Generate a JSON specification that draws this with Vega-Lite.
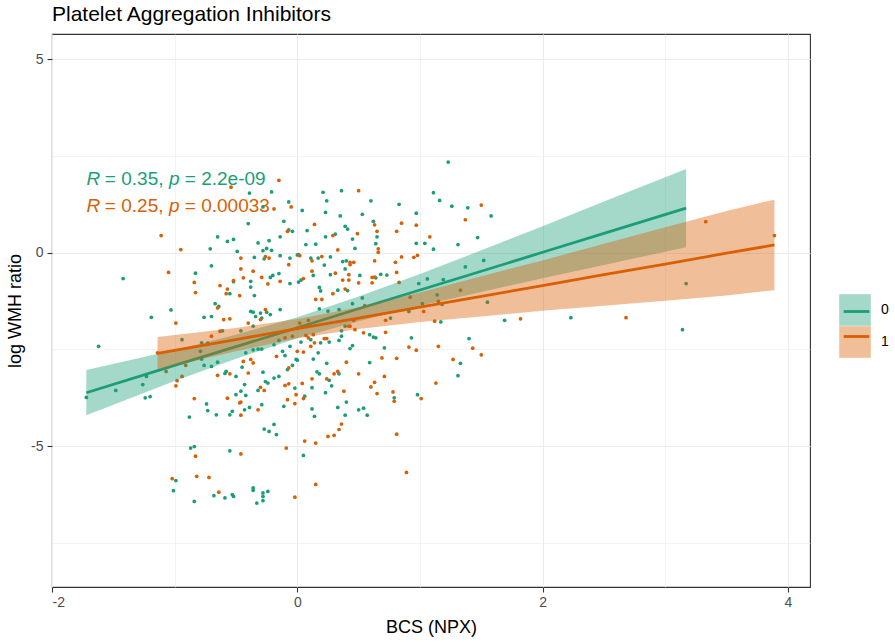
{
"$schema": "https://vega.github.io/schema/vega-lite/v6.json",
"width": 758, "height": 553,
"autosize": {"type": "none"},
"padding": {"left": 52, "top": 34, "right": 85, "bottom": 55},
"background": "white",
"title": {"text": "Platelet Aggregation Inhibitors", "anchor": "start", "frame": "group", "fontSize": 21, "font": "Liberation Sans", "fontWeight": "normal", "color": "#000000", "baseline": "alphabetic", "offset": 14, "dy": 22},
"config": {
  "font": "Liberation Sans",
  "view": {"stroke": "#333333", "strokeWidth": 1.1},
  "axis": {"domain": false, "grid": true, "gridColor": "#EBEBEB", "tickColor": "#333333", "tickSize": 5, "tickWidth": 1.1, "labelColor": "#4D4D4D", "labelFontSize": 14, "labelFont": "Liberation Sans", "titleFont": "Liberation Sans", "titleFontSize": 18, "titleColor": "#000000", "titleFontWeight": "normal"}
},
"datasets": {
"pts": [
{"x":-0.39,"y":1.54,"g":"0"},{"x":-0.21,"y":1.57,"g":"0"},{"x":-0.07,"y":1.31,"g":"0"},{"x":-0.28,"y":1.18,"g":"0"},{"x":-0.40,"y":0.75,"g":"0"},{"x":-0.65,"y":0.41,"g":"0"},{"x":-0.57,"y":0.29,"g":"0"},{"x":-0.52,"y":0.34,"g":"0"},{"x":-0.11,"y":0.81,"g":"0"},{"x":-0.07,"y":0.59,"g":"0"},{"x":-0.04,"y":0.55,"g":"0"},{"x":-0.14,"y":0.41,"g":"0"},{"x":-0.71,"y":0.10,"g":"0"},{"x":-0.49,"y":0.03,"g":"0"},{"x":-0.32,"y":0.25,"g":"0"},{"x":-0.28,"y":0.05,"g":"0"},{"x":-0.25,"y":0.11,"g":"0"},{"x":-0.21,"y":0.06,"g":"0"},{"x":-0.23,"y":0.31,"g":"0"},{"x":-0.35,"y":-0.12,"g":"0"},{"x":-0.27,"y":-0.16,"g":"0"},{"x":-0.14,"y":-0.08,"g":"0"},{"x":-0.06,"y":-0.14,"g":"0"},{"x":0.00,"y":-0.06,"g":"0"},{"x":-1.42,"y":-0.67,"g":"0"},{"x":-0.83,"y":-0.53,"g":"0"},{"x":-0.70,"y":-0.34,"g":"0"},{"x":-0.22,"y":-0.64,"g":"0"},{"x":-0.20,"y":-0.59,"g":"0"},{"x":-0.15,"y":-0.54,"g":"0"},{"x":-0.52,"y":-0.75,"g":"0"},{"x":-0.55,"y":-1.06,"g":"0"},{"x":-0.38,"y":-0.74,"g":"0"},{"x":-0.38,"y":-0.89,"g":"0"},{"x":-0.35,"y":-1.11,"g":"0"},{"x":-0.06,"y":-0.80,"g":"0"},{"x":0.01,"y":-0.76,"g":"0"},{"x":-0.67,"y":-1.32,"g":"0"},{"x":-0.64,"y":-1.39,"g":"0"},{"x":-1.03,"y":-1.48,"g":"0"},{"x":-1.19,"y":-1.67,"g":"0"},{"x":-0.76,"y":-1.67,"g":"0"},{"x":-0.70,"y":-1.65,"g":"0"},{"x":-0.38,"y":-1.52,"g":"0"},{"x":-0.36,"y":-1.54,"g":"0"},{"x":-0.30,"y":-1.56,"g":"0"},{"x":-0.25,"y":-1.54,"g":"0"},{"x":-0.22,"y":-1.60,"g":"0"},{"x":-0.14,"y":-1.47,"g":"0"},{"x":-0.34,"y":-1.65,"g":"0"},{"x":-0.29,"y":-1.69,"g":"0"},
{"x":1.23,"y":2.34,"g":"0"},{"x":0.21,"y":1.56,"g":"0"},{"x":0.36,"y":1.60,"g":"0"},{"x":0.24,"y":1.34,"g":"0"},{"x":0.60,"y":1.34,"g":"0"},{"x":0.23,"y":1.04,"g":"0"},{"x":0.35,"y":0.95,"g":"0"},{"x":0.53,"y":0.99,"g":"0"},{"x":0.83,"y":1.25,"g":"0"},{"x":0.97,"y":1.02,"g":"0"},{"x":1.11,"y":1.55,"g":"0"},{"x":1.16,"y":1.35,"g":"0"},{"x":1.26,"y":1.20,"g":"0"},{"x":1.39,"y":1.16,"g":"0"},{"x":1.58,"y":0.95,"g":"0"},{"x":1.47,"y":0.39,"g":"0"},{"x":1.31,"y":0.21,"g":"0"},{"x":1.11,"y":0.09,"g":"0"},{"x":1.04,"y":0.24,"g":"0"},{"x":0.97,"y":0.24,"g":"0"},{"x":0.62,"y":0.81,"g":"0"},{"x":0.65,"y":0.41,"g":"0"},{"x":0.64,"y":0.23,"g":"0"},{"x":0.39,"y":0.68,"g":"0"},{"x":0.41,"y":0.61,"g":"0"},{"x":0.45,"y":0.35,"g":"0"},{"x":0.47,"y":0.11,"g":"0"},{"x":0.31,"y":0.48,"g":"0"},{"x":0.23,"y":0.41,"g":"0"},{"x":0.08,"y":0.57,"g":"0"},{"x":0.07,"y":0.21,"g":"0"},{"x":0.15,"y":0.22,"g":"0"},{"x":0.04,"y":1.09,"g":"0"},{"x":0.01,"y":-0.05,"g":"0"},{"x":0.11,"y":-0.14,"g":"0"},{"x":0.17,"y":-0.14,"g":"0"},{"x":0.27,"y":-0.11,"g":"0"},{"x":0.22,"y":-0.32,"g":"0"},{"x":0.37,"y":-0.23,"g":"0"},{"x":0.40,"y":-0.21,"g":"0"},{"x":0.39,"y":-0.42,"g":"0"},{"x":0.13,"y":-0.59,"g":"0"},{"x":0.03,"y":-0.71,"g":"0"},{"x":0.27,"y":-0.57,"g":"0"},{"x":0.51,"y":-0.59,"g":"0"},{"x":0.64,"y":-0.65,"g":"0"},{"x":0.68,"y":-0.56,"g":"0"},{"x":0.73,"y":-0.58,"g":"0"},{"x":0.18,"y":-0.90,"g":"0"},{"x":0.19,"y":-0.99,"g":"0"},{"x":0.33,"y":-0.97,"g":"0"},{"x":0.41,"y":-0.98,"g":"0"},{"x":0.53,"y":-1.17,"g":"0"},{"x":0.45,"y":-1.32,"g":"0"},{"x":0.18,"y":-1.45,"g":"0"},{"x":0.25,"y":-1.51,"g":"0"},{"x":0.34,"y":-1.47,"g":"0"},{"x":0.39,"y":-1.90,"g":"0"},{"x":0.76,"y":-1.69,"g":"0"},{"x":1.02,"y":-1.32,"g":"0"},{"x":0.91,"y":-1.52,"g":"0"},{"x":0.99,"y":-0.80,"g":"0"},{"x":1.06,"y":-0.68,"g":"0"},{"x":1.19,"y":-0.70,"g":"0"},{"x":1.14,"y":-1.09,"g":"0"},{"x":1.18,"y":-1.34,"g":"0"},{"x":1.17,"y":-1.79,"g":"0"},{"x":1.37,"y":-0.37,"g":"0"},{"x":1.52,"y":-0.20,"g":"0"},{"x":1.55,"y":-1.28,"g":"0"},{"x":1.69,"y":-1.75,"g":"0"},
{"x":-1.62,"y":-2.42,"g":"0"},{"x":-1.72,"y":-3.74,"g":"0"},{"x":-1.48,"y":-3.56,"g":"0"},{"x":-1.26,"y":-3.41,"g":"0"},{"x":-1.23,"y":-3.20,"g":"0"},{"x":-1.24,"y":-3.75,"g":"0"},{"x":-1.20,"y":-3.72,"g":"0"},{"x":-0.94,"y":-2.25,"g":"0"},{"x":-0.78,"y":-2.33,"g":"0"},{"x":-0.73,"y":-2.34,"g":"0"},{"x":-0.76,"y":-2.91,"g":"0"},{"x":-0.70,"y":-2.94,"g":"0"},{"x":-0.61,"y":-2.02,"g":"0"},{"x":-0.65,"y":-2.83,"g":"0"},{"x":-0.59,"y":-3.12,"g":"0"},{"x":-0.58,"y":-3.07,"g":"0"},{"x":-0.50,"y":-3.20,"g":"0"},{"x":-0.46,"y":-2.02,"g":"0"},{"x":-0.36,"y":-1.90,"g":"0"},{"x":-0.45,"y":-2.96,"g":"0"},{"x":-0.36,"y":-2.51,"g":"0"},{"x":-0.32,"y":-2.49,"g":"0"},{"x":-0.29,"y":-2.49,"g":"0"},{"x":-0.42,"y":-2.59,"g":"0"},{"x":-0.28,"y":-3.09,"g":"0"},{"x":-0.19,"y":-2.38,"g":"0"},{"x":-0.15,"y":-2.27,"g":"0"},{"x":-0.12,"y":-2.55,"g":"0"},{"x":-0.10,"y":-2.66,"g":"0"},{"x":-0.06,"y":-2.42,"g":"0"},{"x":-0.08,"y":-3.02,"g":"0"},{"x":-0.04,"y":-2.91,"g":"0"},{"x":0.00,"y":-2.78,"g":"0"},{"x":-0.02,"y":-3.50,"g":"0"},{"x":-0.26,"y":-3.33,"g":"0"},{"x":-0.24,"y":-3.37,"g":"0"},{"x":-0.19,"y":-3.24,"g":"0"},{"x":-0.15,"y":-3.20,"g":"0"},{"x":-0.11,"y":-3.97,"g":"0"},{"x":-0.32,"y":-3.56,"g":"0"},{"x":-0.43,"y":-3.41,"g":"0"},{"x":-0.46,"y":-3.58,"g":"0"},{"x":-0.42,"y":-3.69,"g":"0"},{"x":-0.43,"y":-4.06,"g":"0"},{"x":-0.39,"y":-4.00,"g":"0"},{"x":-0.50,"y":-3.67,"g":"0"},{"x":-0.53,"y":-4.10,"g":"0"},{"x":-0.55,"y":-4.19,"g":"0"},{"x":-0.66,"y":-4.19,"g":"0"},{"x":-0.74,"y":-3.91,"g":"0"},{"x":-0.73,"y":-4.08,"g":"0"},{"x":-0.88,"y":-4.25,"g":"0"},{"x":-0.29,"y":-3.93,"g":"0"},{"x":-0.27,"y":-4.56,"g":"0"},{"x":-0.23,"y":-4.62,"g":"0"},{"x":-0.19,"y":-4.44,"g":"0"},{"x":-0.17,"y":-4.70,"g":"0"},{"x":-0.87,"y":-5.05,"g":"0"},{"x":-0.84,"y":-5.01,"g":"0"},{"x":-0.55,"y":-5.12,"g":"0"},{"x":-0.99,"y":-5.89,"g":"0"},{"x":-1.01,"y":-6.15,"g":"0"},{"x":-0.84,"y":-6.43,"g":"0"},{"x":-0.68,"y":-6.28,"g":"0"},{"x":-0.59,"y":-6.34,"g":"0"},{"x":-0.53,"y":-6.25,"g":"0"},{"x":-0.52,"y":-6.30,"g":"0"},{"x":-0.36,"y":-6.08,"g":"0"},{"x":-0.36,"y":-6.14,"g":"0"},{"x":-0.28,"y":-6.21,"g":"0"},{"x":-0.28,"y":-6.30,"g":"0"},{"x":-0.24,"y":-6.17,"g":"0"},{"x":-0.33,"y":-6.47,"g":"0"},{"x":-0.28,"y":-6.41,"g":"0"},{"x":-0.79,"y":-2.55,"g":"0"},{"x":-0.78,"y":-2.75,"g":"0"},
{"x":0.03,"y":-2.31,"g":"0"},{"x":0.11,"y":-2.25,"g":"0"},{"x":-0.01,"y":-2.76,"g":"0"},{"x":0.19,"y":-2.33,"g":"0"},{"x":0.26,"y":-2.31,"g":"0"},{"x":0.34,"y":-2.27,"g":"0"},{"x":0.36,"y":-2.16,"g":"0"},{"x":0.36,"y":-2.02,"g":"0"},{"x":0.59,"y":-2.12,"g":"0"},{"x":0.62,"y":-2.18,"g":"0"},{"x":0.64,"y":-2.20,"g":"0"},{"x":0.43,"y":-2.48,"g":"0"},{"x":0.45,"y":-2.40,"g":"0"},{"x":0.71,"y":-2.46,"g":"0"},{"x":0.93,"y":-2.20,"g":"0"},{"x":1.40,"y":-2.22,"g":"0"},{"x":1.33,"y":-2.86,"g":"0"},{"x":1.31,"y":-3.18,"g":"0"},{"x":0.98,"y":-3.67,"g":"0"},{"x":0.59,"y":-2.84,"g":"0"},{"x":0.13,"y":-2.75,"g":"0"},{"x":0.17,"y":-2.59,"g":"0"},{"x":0.24,"y":-2.86,"g":"0"},{"x":0.16,"y":-3.08,"g":"0"},{"x":0.18,"y":-3.13,"g":"0"},{"x":0.12,"y":-3.49,"g":"0"},{"x":0.34,"y":-3.13,"g":"0"},{"x":0.26,"y":-3.30,"g":"0"},{"x":0.28,"y":-3.44,"g":"0"},{"x":0.23,"y":-3.62,"g":"0"},{"x":0.79,"y":-3.75,"g":"0"},{"x":0.06,"y":-3.71,"g":"0"},{"x":0.12,"y":-4.04,"g":"0"},{"x":0.14,"y":-4.23,"g":"0"},{"x":0.33,"y":-4.00,"g":"0"},{"x":0.40,"y":-3.86,"g":"0"},{"x":0.39,"y":-4.20,"g":"0"},{"x":0.50,"y":-4.06,"g":"0"},{"x":0.54,"y":-4.02,"g":"0"},{"x":0.57,"y":-4.20,"g":"0"},{"x":0.05,"y":-5.24,"g":"0"},
{"x":3.17,"y":-0.80,"g":"0"},{"x":2.23,"y":-1.68,"g":"0"},{"x":3.14,"y":-1.99,"g":"0"},
{"x":-0.15,"y":1.87,"g":"1"},{"x":-0.54,"y":1.69,"g":"1"},{"x":-0.05,"y":1.18,"g":"1"},{"x":-0.19,"y":1.13,"g":"1"},{"x":-1.11,"y":0.44,"g":"1"},{"x":-0.08,"y":0.55,"g":"1"},{"x":-0.95,"y":0.08,"g":"1"},{"x":-0.46,"y":-0.14,"g":"1"},{"x":-0.26,"y":-0.10,"g":"1"},{"x":-0.23,"y":-0.14,"g":"1"},{"x":-1.05,"y":-0.51,"g":"1"},{"x":-0.46,"y":-0.42,"g":"1"},{"x":-0.36,"y":-0.48,"g":"1"},{"x":-0.29,"y":-0.64,"g":"1"},{"x":-0.44,"y":-0.65,"g":"1"},{"x":-0.52,"y":-0.72,"g":"1"},{"x":-0.84,"y":-0.77,"g":"1"},{"x":-0.83,"y":-1.03,"g":"1"},{"x":-0.63,"y":-0.85,"g":"1"},{"x":-0.57,"y":-0.94,"g":"1"},{"x":-0.58,"y":-1.06,"g":"1"},{"x":-0.47,"y":-1.11,"g":"1"},{"x":-0.24,"y":-0.81,"g":"1"},{"x":-0.14,"y":-0.74,"g":"1"},{"x":-0.07,"y":-0.31,"g":"1"},{"x":-0.65,"y":-1.43,"g":"1"},{"x":-0.99,"y":-1.82,"g":"1"},{"x":-0.60,"y":-1.73,"g":"1"},{"x":-0.55,"y":-1.71,"g":"1"},{"x":-0.26,"y":-1.47,"g":"1"},{"x":-0.40,"y":-1.82,"g":"1"},{"x":-0.30,"y":-1.73,"g":"1"},
{"x":0.50,"y":1.60,"g":"1"},{"x":1.50,"y":1.23,"g":"1"},{"x":1.37,"y":0.85,"g":"1"},{"x":1.08,"y":0.41,"g":"1"},{"x":0.97,"y":0.71,"g":"1"},{"x":0.85,"y":0.76,"g":"1"},{"x":0.81,"y":0.55,"g":"1"},{"x":0.63,"y":0.72,"g":"1"},{"x":0.65,"y":0.55,"g":"1"},{"x":0.66,"y":0.10,"g":"1"},{"x":0.66,"y":0.01,"g":"1"},{"x":0.49,"y":0.49,"g":"1"},{"x":0.33,"y":0.07,"g":"1"},{"x":0.29,"y":0.44,"g":"1"},{"x":0.14,"y":0.73,"g":"1"},{"x":0.02,"y":-0.08,"g":"1"},{"x":0.12,"y":-0.21,"g":"1"},{"x":0.20,"y":-0.10,"g":"1"},{"x":0.43,"y":-0.25,"g":"1"},{"x":0.46,"y":-0.25,"g":"1"},{"x":0.43,"y":-0.31,"g":"1"},{"x":0.63,"y":-0.21,"g":"1"},{"x":0.80,"y":-0.25,"g":"1"},{"x":0.85,"y":-0.11,"g":"1"},{"x":0.95,"y":-0.12,"g":"1"},{"x":0.98,"y":-0.07,"g":"1"},{"x":0.12,"y":-0.48,"g":"1"},{"x":0.05,"y":-0.67,"g":"1"},{"x":0.31,"y":-0.53,"g":"1"},{"x":0.42,"y":-0.57,"g":"1"},{"x":0.37,"y":-0.71,"g":"1"},{"x":0.42,"y":-0.71,"g":"1"},{"x":0.50,"y":-0.78,"g":"1"},{"x":0.61,"y":-0.64,"g":"1"},{"x":0.63,"y":-0.63,"g":"1"},{"x":0.61,"y":-0.78,"g":"1"},{"x":0.81,"y":-0.51,"g":"1"},{"x":0.83,"y":-0.77,"g":"1"},{"x":0.39,"y":-0.94,"g":"1"},{"x":0.29,"y":-1.06,"g":"1"},{"x":0.15,"y":-1.21,"g":"1"},{"x":0.20,"y":-1.21,"g":"1"},{"x":0.55,"y":-1.37,"g":"1"},{"x":0.09,"y":-1.75,"g":"1"},{"x":0.02,"y":-1.82,"g":"1"},{"x":0.46,"y":-1.75,"g":"1"},{"x":0.42,"y":-1.90,"g":"1"},{"x":0.72,"y":-1.75,"g":"1"},{"x":1.03,"y":-1.52,"g":"1"},{"x":0.92,"y":-1.15,"g":"1"},{"x":1.15,"y":-1.26,"g":"1"},{"x":1.12,"y":-1.77,"g":"1"},{"x":1.33,"y":-0.97,"g":"1"},{"x":1.82,"y":-1.71,"g":"1"},
{"x":-1.14,"y":-2.59,"g":"1"},{"x":-1.07,"y":-3.07,"g":"1"},{"x":-0.99,"y":-3.44,"g":"1"},{"x":-0.98,"y":-3.31,"g":"1"},{"x":-0.94,"y":-3.20,"g":"1"},{"x":-0.91,"y":-2.91,"g":"1"},{"x":-0.70,"y":-2.16,"g":"1"},{"x":-0.63,"y":-2.03,"g":"1"},{"x":-0.65,"y":-3.17,"g":"1"},{"x":-0.55,"y":-3.13,"g":"1"},{"x":-0.44,"y":-2.81,"g":"1"},{"x":-0.38,"y":-2.76,"g":"1"},{"x":-0.36,"y":-2.85,"g":"1"},{"x":-0.40,"y":-3.11,"g":"1"},{"x":-0.10,"y":-2.20,"g":"1"},{"x":-0.04,"y":-2.16,"g":"1"},{"x":-0.17,"y":-2.68,"g":"1"},{"x":-0.07,"y":-2.98,"g":"1"},{"x":-0.01,"y":-3.67,"g":"1"},{"x":-0.30,"y":-3.48,"g":"1"},{"x":-0.27,"y":-3.56,"g":"1"},{"x":-0.10,"y":-3.43,"g":"1"},{"x":-0.07,"y":-3.39,"g":"1"},{"x":-0.08,"y":-3.80,"g":"1"},{"x":-0.46,"y":-3.86,"g":"1"},{"x":-0.46,"y":-4.20,"g":"1"},{"x":-0.57,"y":-3.76,"g":"1"},{"x":-0.47,"y":-3.88,"g":"1"},{"x":-0.84,"y":-3.77,"g":"1"},{"x":-0.32,"y":-4.06,"g":"1"},{"x":-0.02,"y":-3.90,"g":"1"},{"x":-0.83,"y":-5.26,"g":"1"},{"x":-0.46,"y":-5.20,"g":"1"},{"x":-0.09,"y":-5.05,"g":"1"},{"x":-1.02,"y":-5.84,"g":"1"},{"x":-0.82,"y":-5.78,"g":"1"},{"x":-0.72,"y":-5.81,"g":"1"},{"x":-0.64,"y":-6.19,"g":"1"},{"x":-0.02,"y":-6.32,"g":"1"},
{"x":0.07,"y":-2.14,"g":"1"},{"x":0.09,"y":-2.20,"g":"1"},{"x":0.13,"y":-2.12,"g":"1"},{"x":0.11,"y":-2.42,"g":"1"},{"x":0.14,"y":-2.33,"g":"1"},{"x":0.00,"y":-2.55,"g":"1"},{"x":0.05,"y":-2.57,"g":"1"},{"x":0.22,"y":-2.22,"g":"1"},{"x":0.24,"y":-2.22,"g":"1"},{"x":0.43,"y":-1.90,"g":"1"},{"x":0.47,"y":-1.99,"g":"1"},{"x":0.54,"y":-2.07,"g":"1"},{"x":0.72,"y":-2.06,"g":"1"},{"x":0.91,"y":-2.44,"g":"1"},{"x":0.97,"y":-2.52,"g":"1"},{"x":1.15,"y":-2.42,"g":"1"},{"x":1.43,"y":-2.47,"g":"1"},{"x":1.50,"y":-2.64,"g":"1"},{"x":1.27,"y":-2.76,"g":"1"},{"x":1.13,"y":-3.37,"g":"1"},{"x":1.01,"y":-3.77,"g":"1"},{"x":0.81,"y":-2.73,"g":"1"},{"x":0.69,"y":-2.72,"g":"1"},{"x":0.40,"y":-2.83,"g":"1"},{"x":0.12,"y":-3.26,"g":"1"},{"x":0.04,"y":-3.38,"g":"1"},{"x":0.30,"y":-3.13,"g":"1"},{"x":0.33,"y":-3.07,"g":"1"},{"x":0.24,"y":-3.26,"g":"1"},{"x":0.38,"y":-3.58,"g":"1"},{"x":0.50,"y":-3.13,"g":"1"},{"x":0.71,"y":-3.20,"g":"1"},{"x":0.63,"y":-3.35,"g":"1"},{"x":0.60,"y":-3.47,"g":"1"},{"x":0.65,"y":-3.64,"g":"1"},{"x":0.78,"y":-3.60,"g":"1"},{"x":0.79,"y":-3.84,"g":"1"},{"x":0.05,"y":-3.77,"g":"1"},{"x":0.36,"y":-4.43,"g":"1"},{"x":0.34,"y":-4.57,"g":"1"},{"x":0.30,"y":-4.72,"g":"1"},{"x":0.25,"y":-4.75,"g":"1"},{"x":0.06,"y":-4.87,"g":"1"},{"x":0.15,"y":-4.92,"g":"1"},{"x":0.81,"y":-4.69,"g":"1"},{"x":0.89,"y":-5.68,"g":"1"},{"x":0.15,"y":-5.99,"g":"1"},
{"x":3.33,"y":0.80,"g":"1"},{"x":3.89,"y":0.44,"g":"1"},{"x":2.68,"y":-1.68,"g":"1"}
],
"fit": [
{"g":"0","grp":"0","x":-1.72,"fit":-3.62,"lo":-4.20,"hi":-3.03},
{"g":"0","grp":"0","x":-1.0,"fit":-2.915,"lo":-3.315,"hi":-2.515},
{"g":"0","grp":"0","x":-0.5,"fit":-2.43,"lo":-2.74,"hi":-2.12},
{"g":"0","grp":"0","x":0.0,"fit":-1.94,"lo":-2.21,"hi":-1.67},
{"g":"0","grp":"0","x":0.5,"fit":-1.45,"lo":-1.77,"hi":-1.13},
{"g":"0","grp":"0","x":1.0,"fit":-0.965,"lo":-1.375,"hi":-0.555},
{"g":"0","grp":"0","x":1.5,"fit":-0.48,"lo":-1.02,"hi":0.06},
{"g":"0","grp":"0","x":2.0,"fit":0.01,"lo":-0.66,"hi":0.68},
{"g":"0","grp":"0","x":2.5,"fit":0.50,"lo":-0.32,"hi":1.32},
{"g":"0","grp":"0","x":3.17,"fit":1.15,"lo":0.14,"hi":2.16},
{"g":"1","grp":"1","x":-1.14,"fit":-2.60,"lo":-3.02,"hi":-2.18},
{"g":"1","grp":"1","x":-0.5,"fit":-2.245,"lo":-2.545,"hi":-1.945},
{"g":"1","grp":"1","x":0.0,"fit":-1.965,"lo":-2.215,"hi":-1.715},
{"g":"1","grp":"1","x":0.5,"fit":-1.69,"lo":-1.97,"hi":-1.41},
{"g":"1","grp":"1","x":1.0,"fit":-1.41,"lo":-1.79,"hi":-1.03},
{"g":"1","grp":"1","x":1.5,"fit":-1.13,"lo":-1.65,"hi":-0.61},
{"g":"1","grp":"1","x":2.0,"fit":-0.85,"lo":-1.50,"hi":-0.20},
{"g":"1","grp":"1","x":2.5,"fit":-0.57,"lo":-1.37,"hi":0.23},
{"g":"1","grp":"1","x":3.0,"fit":-0.294,"lo":-1.244,"hi":0.656},
{"g":"1","grp":"1","x":3.5,"fit":-0.015,"lo":-1.105,"hi":1.075},
{"g":"1","grp":"1","x":3.89,"fit":0.20,"lo":-0.97,"hi":1.37}
],
"lab": [
{"g":"0","t":"R","it":true,"x":-1.718,"y":1.75},
{"g":"0","t":"= 0.35,","it":false,"x":-1.569,"y":1.75},
{"g":"0","t":"p","it":true,"x":-1.047,"y":1.75},
{"g":"0","t":"= 2.2e-09","it":false,"x":-0.917,"y":1.75},
{"g":"1","t":"R","it":true,"x":-1.718,"y":1.06},
{"g":"1","t":"= 0.25,","it":false,"x":-1.569,"y":1.06},
{"g":"1","t":"p","it":true,"x":-1.047,"y":1.06},
{"g":"1","t":"= 0.00033","it":false,"x":-0.917,"y":1.06}
]
},
"encoding": {
  "x": {"field": "x", "type": "quantitative", "scale": {"domain": [-2.0, 4.18], "nice": false, "zero": false},
    "axis": {"title": "BCS (NPX)", "values": [-2,-1,0,1,2,3,4], "labelExpr": "datum.value % 2 === 0 ? '' + datum.value : ''", "tickOpacity": {"condition": {"test": "datum.value % 2 !== 0", "value": 0}, "value": 1}, "gridWidth": {"condition": {"test": "datum.value % 2 !== 0", "value": 0.6}, "value": 1.1}, "labelPadding": 3, "titlePadding": 9}}
},
"layer": [
  {"data": {"name": "pts"}, "mark": {"type": "circle", "size": 14, "opacity": 1},
   "encoding": {
     "y": {"field": "y", "type": "quantitative", "scale": {"domain": [-8.64, 5.65], "nice": false, "zero": false},
       "axis": {"title": "log WMH ratio", "values": [-7.5,-5,-2.5,0,2.5,5], "labelExpr": "datum.value % 5 === 0 ? '' + datum.value : ''", "tickOpacity": {"condition": {"test": "datum.value % 5 !== 0", "value": 0}, "value": 1}, "gridWidth": {"condition": {"test": "datum.value % 5 !== 0", "value": 0.6}, "value": 1.1}, "labelPadding": 4, "titlePadding": 6}},
     "color": {"field": "g", "type": "nominal", "scale": {"domain": ["0","1"], "range": ["#1B9E77", "#D95F02"]}, "legend": null}
   }},
  {"data": {"name": "fit"}, "transform": [{"filter": "datum.g === '0'"}], "mark": {"type": "area", "opacity": 0.4},
   "encoding": {"y": {"field": "lo", "type": "quantitative"}, "y2": {"field": "hi"},
     "fill": {"field": "g", "type": "nominal", "scale": {"range": ["#1B9E77", "#D95F02"]},
       "legend": {"title": null, "orient": "none", "legendX": 787, "legendY": 260, "symbolType": "M-1,-1H1V1H-1Z", "symbolSize": 1000, "symbolOpacity": 0.4, "symbolStrokeWidth": 0, "labelFontSize": 14, "labelColor": "#000000", "labelOffset": 10, "rowPadding": 0, "padding": 0}}}},
  {"data": {"name": "fit"}, "transform": [{"filter": "datum.g === '0'"}], "mark": {"type": "line", "strokeWidth": 2.8},
   "encoding": {"y": {"field": "fit", "type": "quantitative"},
     "stroke": {"field": "grp", "type": "nominal", "scale": {"range": ["#1B9E77", "#D95F02"]},
       "legend": {"title": null, "orient": "none", "legendX": 787, "legendY": 260, "symbolType": "M-0.81,0H0.81", "symbolSize": 1000, "symbolStrokeWidth": 2.8, "symbolFillColor": "transparent", "labelExpr": "''", "labelFontSize": 14, "labelOffset": 10, "rowPadding": 0, "padding": 0}}}},
  {"data": {"name": "fit"}, "transform": [{"filter": "datum.g === '1'"}], "mark": {"type": "area", "opacity": 0.4},
   "encoding": {"y": {"field": "lo", "type": "quantitative"}, "y2": {"field": "hi"},
     "fill": {"field": "g", "type": "nominal"}}},
  {"data": {"name": "fit"}, "transform": [{"filter": "datum.g === '1'"}], "mark": {"type": "line", "strokeWidth": 2.8},
   "encoding": {"y": {"field": "fit", "type": "quantitative"},
     "stroke": {"field": "grp", "type": "nominal"}}},
  {"data": {"name": "lab"}, "transform": [{"filter": "datum.it"}], "mark": {"type": "text", "align": "left", "baseline": "alphabetic", "fontSize": 19, "fontStyle": "italic", "font": "Liberation Sans"},
   "encoding": {"y": {"field": "y", "type": "quantitative"}, "text": {"field": "t"}, "color": {"field": "g", "type": "nominal", "legend": null}}},
  {"data": {"name": "lab"}, "transform": [{"filter": "!datum.it"}], "mark": {"type": "text", "align": "left", "baseline": "alphabetic", "fontSize": 19, "font": "Liberation Sans"},
   "encoding": {"y": {"field": "y", "type": "quantitative"}, "text": {"field": "t"}, "color": {"field": "g", "type": "nominal", "legend": null}}}
]
}
